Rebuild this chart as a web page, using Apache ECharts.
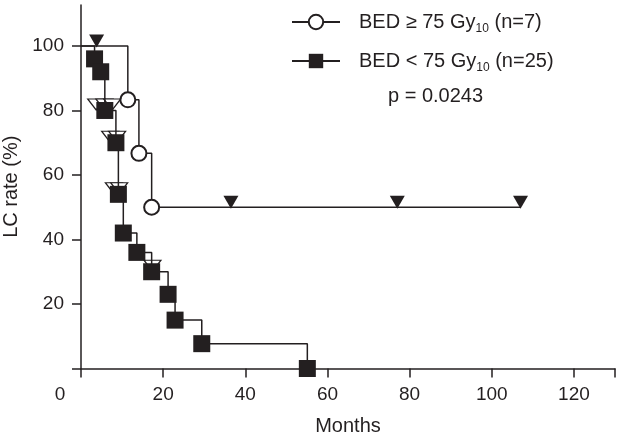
<!DOCTYPE html>
<html style="height: 100%">
<head>
    <meta charset="utf-8">
    <title>LC rate</title>
    <script type="text/javascript" src="https://cdn.jsdelivr.net/npm/echarts@6/dist/echarts.min.js"></script>
</head>
<body style="height: 100%; margin: 0; background: #fff;">
<div id="container" style="width: 617px; height: 438px"></div>
<script type="text/javascript">
    // BED >= 75 Gy10 (n=7): events [months, %], censored marks
    var startA = [0, 100];
    var eventsA = [[11.4, 83.3], [14.1, 66.7], [17.2, 50]];
    var endA = [107, 50];
    var censorA = [[3.8, 100], [36.5, 50], [77, 50], [107, 50]];

    // BED < 75 Gy10 (n=25)
    var startB = [0, 100];
    var eventsB = [[3.3, 96], [4.8, 92], [5.8, 80], [8.5, 70], [9.1, 54], [10.3, 42],
        [13.6, 36], [17.2, 30], [21.2, 23], [22.9, 15], [29.4, 7.7], [55.1, 0]];
    var censorB = [[3.7, 80], [5.7, 80], [7.6, 80], [7.1, 70], [8.8, 70], [8.0, 54], [9.3, 54], [17.4, 30]];

    var xTicks = [0, 20, 40, 60, 80, 100, 120, 130];
    var xLabels = [0, 20, 40, 60, 80, 100, 120];
    var yTicks = [0, 20, 40, 60, 80, 100];
    var yLabels = [20, 40, 60, 80, 100];

    var nameA = 'BED ≥ 75 Gy10 (n=7)';
    var nameB = 'BED < 75 Gy10 (n=25)';
    var pText = 'p = 0.0243';

    var ink = '#231f20';
    var font = 'Liberation Sans, Arial, sans-serif';

    // 起点和终点不画标记
    function stepData(start, events, end) {
        var arr = [{value: start, symbol: 'none'}];
        for (var i = 0; i < events.length; i++) {
            arr.push(events[i]);
        }
        if (end) arr.push({value: end, symbol: 'none'});
        return arr;
    }

    var myChart = echarts.init(document.getElementById('container'));
    var option = {
        animation: false,
        backgroundColor: '#fff',
        textStyle: {fontFamily: font, color: ink},
        title: {
            text: pText,
            left: 383,
            top: 81,
            textStyle: {fontFamily: font, fontSize: 20, fontWeight: 'normal', color: ink}
        },
        legend: {
            orient: 'vertical',
            left: 286,
            top: 7,
            itemWidth: 48,
            itemHeight: 18,
            itemGap: 16,
            data: [nameA, nameB],
            formatter: function (name) {
                var parts = name.split('Gy10');
                return '{t|' + parts[0] + 'Gy}{s|10}{t|' + parts[1] + '}';
            },
            textStyle: {
                color: ink,
                fontFamily: font,
                rich: {
                    t: {fontSize: 20, lineHeight: 26, fontFamily: font, color: ink},
                    s: {fontSize: 12, lineHeight: 12, fontFamily: font, color: ink, verticalAlign: 'bottom'}
                },
                padding: [0, 0, 0, 14]
            }
        },
        grid: {left: 81, right: 2, top: 5, bottom: 69.5, outerBoundsMode: 'none'},
        xAxis: {
            type: 'value',
            min: 0,
            max: 130,
            name: 'Months',
            nameLocation: 'middle',
            nameGap: 48,
            nameTextStyle: {fontSize: 20, color: ink, fontFamily: font},
            splitLine: {show: false},
            axisLine: {lineStyle: {color: ink, width: 1.5}},
            axisTick: {length: 9, lineStyle: {color: ink, width: 1.5}, customValues: xTicks},
            axisLabel: {
                customValues: xLabels,
                margin: 17,
                fontSize: 19,
                color: ink,
                formatter: function (v) {
                    return v === 0 ? '{o|0}' : String(v);
                },
                rich: {o: {fontSize: 19, color: ink, padding: [0, 42, 0, 0]}}
            }
        },
        yAxis: {
            type: 'value',
            min: 0,
            max: 112.7,
            name: 'LC rate (%)',
            nameLocation: 'middle',
            nameGap: 52,
            nameTextStyle: {fontSize: 20, color: ink, fontFamily: font},
            splitLine: {show: false},
            axisLine: {show: true, lineStyle: {color: ink, width: 1.5}},
            axisTick: {show: true, length: 9, lineStyle: {color: ink, width: 1.5}, customValues: yTicks},
            axisLabel: {customValues: yLabels, margin: 17, fontSize: 19, color: ink}
        },
        series: [
            {
                name: nameB,
                type: 'line',
                step: 'end',
                data: stepData(startB, eventsB, null),
                symbol: 'rect',
                symbolSize: 17,
                z: 3,
                lineStyle: {color: ink, width: 1.5},
                itemStyle: {color: ink, borderColor: ink, borderWidth: 0, opacity: 1}
            },
            {
                name: nameA,
                type: 'line',
                step: 'end',
                data: stepData(startA, eventsA, endA),
                symbol: 'emptyCircle',
                symbolSize: 15,
                z: 2,
                lineStyle: {color: ink, width: 1.5},
                itemStyle: {color: ink, borderColor: ink, borderWidth: 1.5}
            },
            {
                name: 'censorA',
                type: 'scatter',
                data: censorA,
                symbol: 'triangle',
                symbolRotate: 180,
                symbolSize: [15, 13],
                symbolOffset: [0, -5],
                z: 4,
                itemStyle: {color: ink, opacity: 1}
            },
            {
                name: 'censorB',
                type: 'scatter',
                data: censorB,
                symbol: 'triangle',
                symbolRotate: 180,
                symbolSize: [17, 11],
                symbolOffset: [0, -6],
                z: 2,
                itemStyle: {color: '#fff', borderColor: ink, borderWidth: 1.2, opacity: 1}
            }
        ]
    };
    myChart.setOption(option, true);
</script>
</body>
</html>
